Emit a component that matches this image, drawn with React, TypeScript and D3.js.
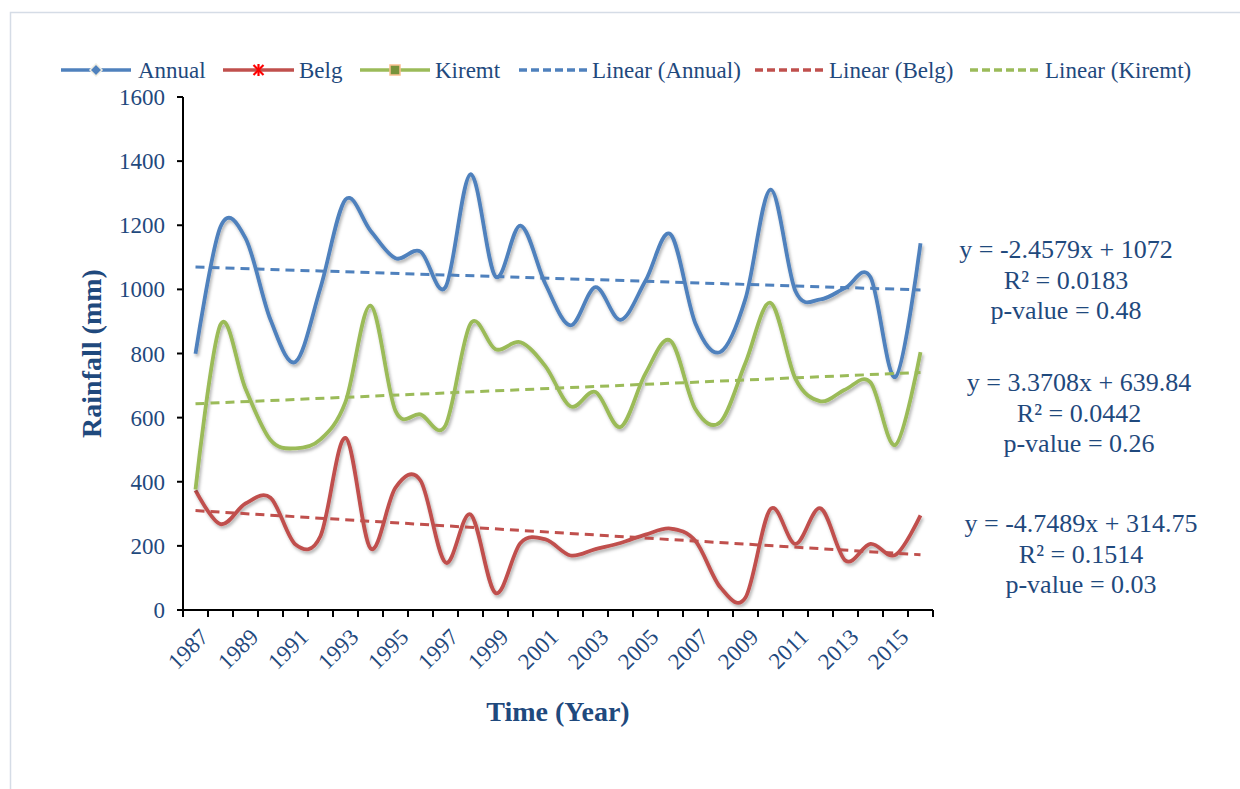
import React from "react";
import * as d3 from "d3";

const years = d3.range(1987, 2017).map(String);

const annual = [
  799, 1195, 1160, 905, 774, 1005, 1280, 1183, 1097, 1118, 1007, 1359, 1040, 1199,
  1016, 888, 1007, 905, 1027, 1172, 893, 805, 971, 1311, 994, 969, 1005, 1038, 727, 1144,
];
const belg = [
  373, 268, 332, 350, 204, 231, 537, 192, 382, 404, 148, 298, 53, 209,
  220, 170, 190, 209, 235, 254, 215, 70, 39, 315, 206, 317, 154, 206, 172, 295,
];
const kiremt = [
  376, 890, 690, 530, 504, 532, 649, 949, 621, 610, 576, 893, 813, 835,
  760, 635, 680, 571, 738, 840, 626, 587, 771, 958, 721, 651, 688, 710, 515, 804,
];

const seriesNames = ["Annual", "Belg", "Kiremt"];
const seriesColors = ["#4F81BD", "#C0504D", "#9BBB59"];
const trendSlopes = [-2.4579, -4.7489, 3.3708];
const trendIntercepts = [1072, 314.75, 639.84];

const yTicks = [0, 200, 400, 600, 800, 1000, 1200, 1400, 1600];

const eqLines = [
  ["y = -2.4579x + 1072", "R² = 0.0183", "p-value = 0.48"],
  ["y = 3.3708x + 639.84", "R² = 0.0442", "p-value = 0.26"],
  ["y = -4.7489x + 314.75", "R² = 0.1514", "p-value = 0.03"],
];

const textColor = "#1F497D";
const serif = "'Liberation Serif', 'Times New Roman', serif";

function App() {
  const left = 183;
  const right = 933;
  const top = 97;
  const bottom = 610;

  const x = d3.scaleBand<string>().domain(years).range([left, right]);
  const cx = (i: number) => (x(years[i]) as number) + x.bandwidth() / 2;
  const y = d3.scaleLinear().domain([0, 1600]).range([bottom, top]);

  const line = d3
    .line<number>()
    .x((_, i) => cx(i))
    .y((d) => y(d))
    .curve(d3.curveCardinal.tension(0));

  const allSeries = [annual, belg, kiremt];

  // legend layout (line sample start/end, text start)
  const legendItems = [
    { x0: 61, x1: 131, tx: 138, color: seriesColors[0], dashed: false, marker: "diamond", label: "Annual" },
    { x0: 223, x1: 294, tx: 299, color: seriesColors[1], dashed: false, marker: "star", label: "Belg" },
    { x0: 360, x1: 430, tx: 435, color: seriesColors[2], dashed: false, marker: "square", label: "Kiremt" },
    { x0: 519, x1: 587, tx: 592, color: seriesColors[0], dashed: true, marker: "", label: "Linear (Annual)" },
    { x0: 755, x1: 824, tx: 829, color: seriesColors[1], dashed: true, marker: "", label: "Linear (Belg)" },
    { x0: 970, x1: 1040, tx: 1045, color: seriesColors[2], dashed: true, marker: "", label: "Linear (Kiremt)" },
  ];
  const legendY = 70;

  const eqCenters = [1066, 1079, 1081];
  const eqBase = [258, 391, 532];

  return (
    <svg
      width={1240}
      height={789}
      style={{ position: "absolute", left: 0, top: 0, background: "#fff" }}
      fontFamily={serif}
    >
      <defs>
        <filter id="shadow" x="-5%" y="-5%" width="110%" height="120%">
          <feDropShadow dx="1.5" dy="2.5" stdDeviation="1.6" floodColor="#000" floodOpacity="0.3" />
        </filter>
      </defs>
      <rect x={10.5} y={12.5} width={1240} height={800} fill="none" stroke="#D5DCE6" strokeWidth={1.5} />

      {/* legend */}
      {legendItems.map((it) => {
        const mx = (it.x0 + it.x1) / 2;
        return (
          <g key={it.label}>
            <line
              x1={it.x0}
              x2={it.x1}
              y1={legendY}
              y2={legendY}
              stroke={it.color}
              strokeWidth={3.5}
              strokeDasharray={it.dashed ? "8,4" : undefined}
            />
            {it.marker === "diamond" && (
              <path
                d={`M${mx},${legendY - 6}l6,6l-6,6l-6,-6z`}
                fill={it.color}
                stroke="#EEECE1"
                strokeWidth={1.5}
              />
            )}
            {it.marker === "star" && (
              <g stroke="#FF0000" strokeWidth={2.2}>
                <line x1={mx - 5} x2={mx + 5} y1={legendY - 5} y2={legendY + 5} />
                <line x1={mx - 5} x2={mx + 5} y1={legendY + 5} y2={legendY - 5} />
                <line x1={mx} x2={mx} y1={legendY - 6} y2={legendY + 6} />
              </g>
            )}
            {it.marker === "square" && (
              <rect
                x={mx - 5}
                y={legendY - 5}
                width={10}
                height={10}
                fill="#77933C"
                stroke="#FAC090"
                strokeWidth={1.5}
              />
            )}
            <text x={it.tx} y={legendY + 8} fontSize={23} fill={textColor}>
              {it.label}
            </text>
          </g>
        );
      })}

      {/* axes */}
      <line x1={left} x2={left} y1={top} y2={bottom} stroke="#000" strokeWidth={2} />
      <line x1={left - 1} x2={right} y1={bottom} y2={bottom} stroke="#000" strokeWidth={2} />
      {yTicks.map((t) => (
        <g key={t}>
          <line x1={left - 6} x2={left} y1={y(t)} y2={y(t)} stroke="#000" strokeWidth={2} />
          <text x={left - 18} y={y(t) + 8} textAnchor="end" fontSize={23} fill={textColor}>
            {t}
          </text>
        </g>
      ))}
      {d3.range(years.length + 1).map((i) => {
        const tx = left + i * x.bandwidth();
        return <line key={i} x1={tx} x2={tx} y1={bottom} y2={bottom + 7} stroke="#000" strokeWidth={2} />;
      })}
      {years.map((yr, i) =>
        i % 2 === 0 ? (
          <text
            key={yr}
            transform={`translate(${cx(i) + 3},${bottom + 17}) rotate(-45)`}
            textAnchor="end"
            dominantBaseline="hanging"
            fontSize={23}
            fill={textColor}
          >
            {yr}
          </text>
        ) : null
      )}
      <text
        x={558}
        y={721}
        textAnchor="middle"
        fontSize={28}
        fontWeight="bold"
        fill={textColor}
      >
        Time (Year)
      </text>
      <text
        transform={`translate(101,${(top + bottom) / 2}) rotate(-90)`}
        textAnchor="middle"
        fontSize={28}
        fontWeight="bold"
        fill={textColor}
      >
        Rainfall (mm)
      </text>

      {/* series */}
      {allSeries.map((s, k) => (
        <path
          key={seriesNames[k]}
          d={line(s) as string}
          fill="none"
          stroke={seriesColors[k]}
          strokeWidth={3.8}
          strokeLinejoin="round"
          filter="url(#shadow)"
        />
      ))}

      {/* trend lines */}
      {trendSlopes.map((a, k) => (
        <line
          key={k}
          x1={cx(0)}
          x2={cx(years.length - 1)}
          y1={y(a * 1 + trendIntercepts[k])}
          y2={y(a * years.length + trendIntercepts[k])}
          stroke={seriesColors[k]}
          strokeWidth={3}
          strokeDasharray="9,6"
        />
      ))}

      {/* equations */}
      {eqLines.map((lines, b) => (
        <g key={b}>
          {lines.map((l, j) => (
            <text
              key={j}
              x={eqCenters[b]}
              y={eqBase[b] + j * 30.5}
              textAnchor="middle"
              fontSize={26}
              fill={textColor}
            >
              {l}
            </text>
          ))}
        </g>
      ))}
    </svg>
  );
}

export default App;
